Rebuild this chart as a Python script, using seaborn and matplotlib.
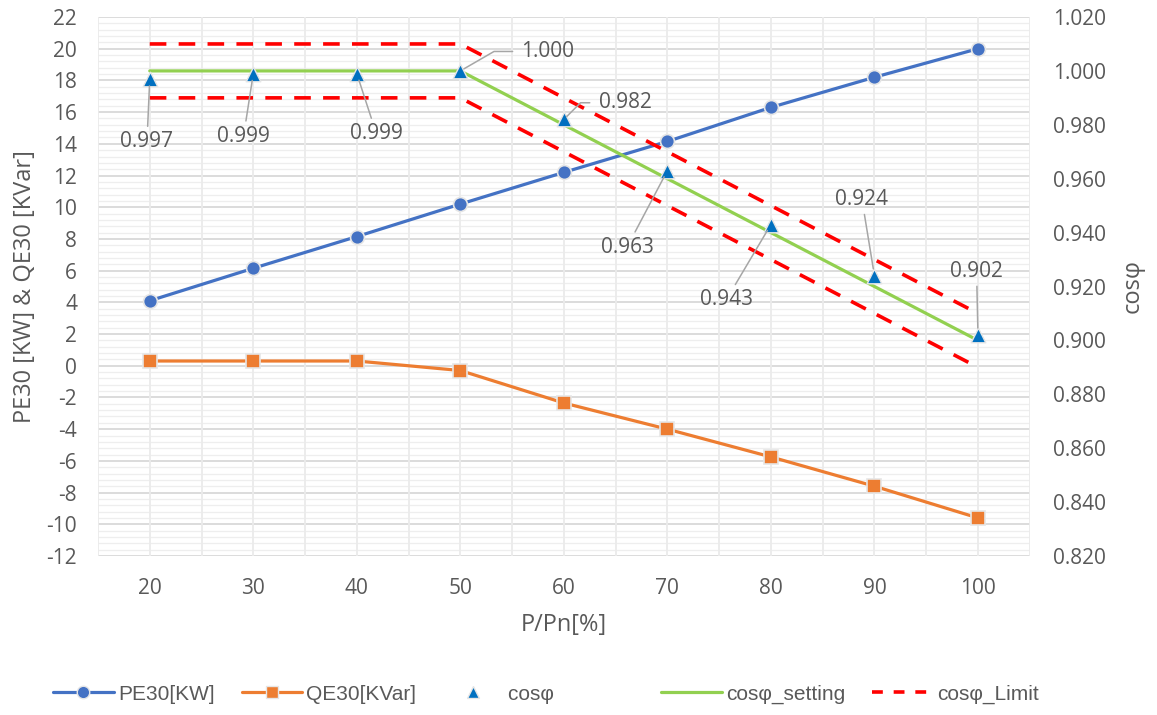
import numpy as np
import pandas as pd
import matplotlib
matplotlib.use("Agg")
import matplotlib.pyplot as plt
from matplotlib.lines import Line2D
import seaborn as sns

# ---- data ----
load_pct = [20, 30, 40, 50, 60, 70, 80, 90, 100]
pe30_kw = [4.1, 6.15, 8.15, 10.2, 12.2, 14.15, 16.3, 18.2, 20.0]
qe30_kvar = [0.3, 0.3, 0.3, -0.3, -2.35, -4.0, -5.75, -7.6, -9.6]
cos_phi = [0.997, 0.999, 0.999, 1.000, 0.982, 0.963, 0.943, 0.924, 0.902]
cos_setting = [1.000, 1.000, 1.000, 1.000, 0.980, 0.960, 0.940, 0.920, 0.900]
cos_upper = [1.010, 1.010, 1.010, 1.010, 0.990, 0.970, 0.950, 0.930, 0.910]
cos_lower = [0.990, 0.990, 0.990, 0.990, 0.970, 0.950, 0.930, 0.910, 0.890]
left_ticks = list(range(-12, 23, 2))
right_ticks = [0.82, 0.84, 0.86, 0.88, 0.90, 0.92, 0.94, 0.96, 0.98, 1.00, 1.02]

df = pd.DataFrame({"load": load_pct, "pe": pe30_kw, "qe": qe30_kvar,
                   "cos": cos_phi, "set": cos_setting,
                   "up": cos_upper, "lo": cos_lower})

BLUE = "#4472C4"
ORANGE = "#ED7D31"
TRI = "#0070C0"
GREEN = "#92D050"
RED = "#FF0000"
TXT = "#595959"

sns.set_theme(style="white")
plt.rcParams["font.family"] = ["Open Sans", "DejaVu Sans"]

fig = plt.figure(figsize=(11.57, 7.15), dpi=100)
ax = fig.add_axes([0.0847, 0.2224, 0.8053, 0.7538])
ax2 = ax.twinx()

# grid
ax.set_xlim(15, 105)
ax.set_ylim(-12, 22)
for v in np.arange(-12, 22.01, 0.4):
    major = abs(v / 2 - round(v / 2)) < 1e-6
    ax.axhline(v, color="#D9D9D9" if major else "#EEEEEE",
               lw=1.3 if major else 0.9, zorder=0)
for v in np.arange(15, 105.01, 5):
    ax.axvline(v, color="#EBEBEB", lw=1.3, zorder=0)

sns.lineplot(data=df, x="load", y="pe", ax=ax, color=BLUE, lw=2.3,
             marker="o", markersize=10, markeredgecolor="#E6E6E6",
             markeredgewidth=1.2, zorder=4, legend=False)
sns.lineplot(data=df, x="load", y="qe", ax=ax, color=ORANGE, lw=2.3,
             marker="s", markersize=10, markeredgecolor="#E6E6E6",
             markeredgewidth=1.2, zorder=4, legend=False)

ax2.set_ylim(0.82, 1.02)
sns.lineplot(data=df, x="load", y="up", ax=ax2, color=RED, lw=2.6,
             dashes=False, zorder=3, legend=False)
sns.lineplot(data=df, x="load", y="lo", ax=ax2, color=RED, lw=2.6,
             dashes=False, zorder=3, legend=False)
for ln in ax2.lines:
    ln.set_dashes((4.6, 3.4))
sns.lineplot(data=df, x="load", y="set", ax=ax2, color=GREEN, lw=2.3,
             zorder=3, legend=False)
sns.scatterplot(data=df, x="load", y="cos", ax=ax2, marker="^", s=110,
                color=TRI, edgecolor="#E6E6E6", linewidth=1.0, zorder=5,
                legend=False)

# value labels with leader lines (offsets in points)
LBL = 15
lead = dict(arrowstyle="-", color="#A6A6A6", lw=1.1, shrinkA=1, shrinkB=5)
offsets = [(-2, -45), (-7, -45), (14, -43), None, None,
           (-29, -55), (-32, -54), (-9, 55), (-1, 46)]
for i, (x, c) in enumerate(zip(load_pct, cos_phi)):
    if offsets[i] is None:
        continue
    ax2.annotate(f"{c:.3f}", xy=(x, c), xytext=offsets[i],
                 textcoords="offset points", ha="center", va="center",
                 fontsize=LBL, color=TXT, arrowprops=lead, zorder=6)
# bent leaders for the 50% and 60% labels
bent = [(3, (44, 14), 30), (4, (25, 12), 45)]
for i, off, ang in bent:
    ax2.annotate(f"{cos_phi[i]:.3f}", xy=(load_pct[i], cos_phi[i]),
                 xytext=off, textcoords="offset points", ha="left",
                 va="center", fontsize=LBL, color=TXT,
                 arrowprops=dict(arrowstyle="-", color="#A6A6A6", lw=1.1,
                                 shrinkA=4, shrinkB=3, relpos=(0, 0.5),
                                 connectionstyle=f"angle,angleA=0,angleB={ang},rad=0"),
                 zorder=6)

# axes styling
ax.set_xticks(load_pct)
ax.set_xticklabels([str(v) for v in load_pct])
ax.set_yticks(left_ticks)
ax.set_yticklabels([str(v) for v in left_ticks])
ax2.set_yticks(right_ticks)
ax2.set_yticklabels([f"{v:.3f}" for v in right_ticks])
for a in (ax, ax2):
    for s in a.spines.values():
        s.set_visible(False)
    a.tick_params(length=0, labelsize=15, colors=TXT)
    a.grid(False)
ax.tick_params(axis="y", pad=15)
ax.tick_params(axis="x", pad=16)
ax2.tick_params(axis="y", pad=17)
ax.set_xlabel("P/Pn[%]", fontsize=17, color=TXT, labelpad=10)
ax.set_ylabel("PE30 [KW] & QE30 [KVar]", fontsize=17, color=TXT, labelpad=7)
ax2.set_ylabel("cosφ", fontsize=17, color=TXT, labelpad=10)
ax2.set_zorder(ax.get_zorder() + 1)
ax2.patch.set_visible(False)

handles = [
    Line2D([], [], color=BLUE, lw=2.3, marker="o", markersize=9,
           markeredgecolor="#E6E6E6"),
    Line2D([], [], color=ORANGE, lw=2.3, marker="s", markersize=9,
           markeredgecolor="#E6E6E6"),
    Line2D([], [], color=TRI, lw=0, marker="^", markersize=8,
           markeredgecolor="#E6E6E6"),
    Line2D([], [], color=GREEN, lw=2.3),
    Line2D([], [], color=RED, lw=2.6, dashes=(3.0, 3.0)),
]
labels = ["PE30[KW]", "QE30[KVar]", "cosφ" + " " * 14, "cosφ_setting", "cosφ_Limit"]
leg = fig.legend(handles, labels, loc="center left", bbox_to_anchor=(0.046, 0.029),
                 ncol=5, frameon=False, handlelength=2.9, handletextpad=0.2,
                 columnspacing=1.3, borderpad=0, borderaxespad=0,
                 prop={"family": ["Liberation Sans", "DejaVu Sans"], "size": 15})
for t in leg.get_texts():
    t.set_color(TXT)

fig.savefig("out.png", dpi=100)
